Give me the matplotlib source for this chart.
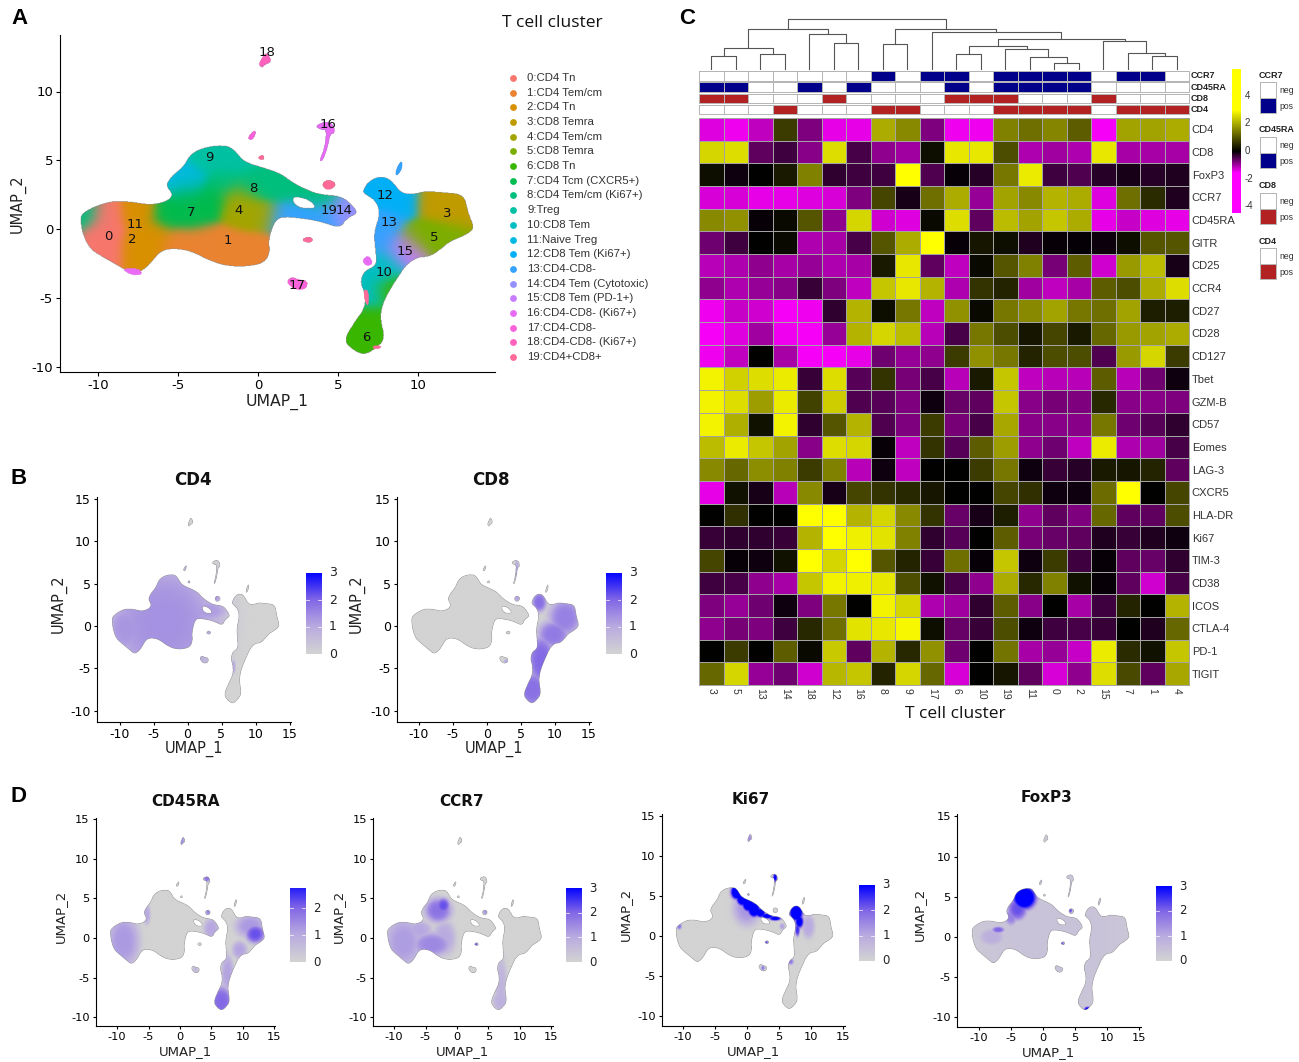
import numpy as np
import matplotlib
matplotlib.use('Agg')
import matplotlib.pyplot as plt
from matplotlib.colors import LinearSegmentedColormap, ListedColormap, TwoSlopeNorm, to_rgb
from matplotlib.path import Path

W, H = 1299, 1062

# cluster legend
cluster_names = ['0:CD4 Tn', '1:CD4 Tem/cm', '2:CD4 Tn', '3:CD8 Temra', '4:CD4 Tem/cm', '5:CD8 Temra',
                 '6:CD8 Tn', '7:CD4 Tcm (CXCR5+)', '8:CD4 Tem/cm (Ki67+)', '9:Treg', '10:CD8 Tem',
                 '11:Naive Treg', '12:CD8 Tem (Ki67+)', '13:CD4-CD8-', '14:CD4 Tem (Cytotoxic)',
                 '15:CD8 Tem (PD-1+)', '16:CD4-CD8- (Ki67+)', '17:CD4-CD8-', '18:CD4-CD8- (Ki67+)',
                 '19:CD4+CD8+']
cluster_colors = ['#F8766D', '#EA8331', '#D89000', '#C09B00', '#A3A500', '#7CAE00', '#39B600', '#00BB4E',
                  '#00BF7D', '#00C1A3', '#00BFC4', '#00BAE0', '#00B0F6', '#35A2FF', '#9590FF', '#C77CFF',
                  '#E76BF3', '#FA62DB', '#FF62BC', '#FF6A98']

# number labels on the UMAP
label_x = [-9.33, -1.9, -7.85, 11.85, -1.2, 11, 6.8, -4.15, -0.3, -3.06, 7.9, -7.7, 7.95, 8.17, 5.35, 9.17, 4.4, 2.44, 0.58, 4.42]
label_y = [-0.53, -0.82, -0.78, 1.16, 1.36, -0.65, -7.88, 1.2, 2.96, 5.2, -3.2, 0.36, 2.42, 0.5, 1.36, -1.62, 7.6, -4.12, 12.8, 1.36]

# outlines of the cell clouds
left_body = [(-11.1, 0.9), (-10.8, 1.3), (-9.85, 1.8), (-8.9, 2.05), (-7.8, 1.95), (-6.7, 1.75), (-5.7, 2.0), (-5.3, 2.5),
             (-5.8, 3.2), (-5.3, 3.95), (-4.65, 4.55), (-4.2, 5.5), (-3.2, 6.0), (-1.95, 6.1), (-1.4, 5.65), (-0.9, 4.9),
             (0.35, 4.45), (1.4, 4.05), (2.2, 3.35), (3.05, 2.85), (3.9, 2.5), (5.15, 2.4), (5.75, 1.9), (6.3, 1.15),
             (5.55, 0.8), (5.15, 0.05), (3.9, 0.55), (2.65, 0.8), (1.4, 0.9), (1.0, 0.45), (0.65, -0.8), (0.75, -1.75),
             (0.35, -2.5), (-0.9, -2.75), (-2.15, -2.65), (-3.2, -2.2), (-4.2, -1.6), (-5.3, -1.4), (-6.1, -1.6),
             (-6.7, -2.45), (-7.15, -2.95), (-7.8, -3.3), (-8.5, -2.85), (-9.45, -2.2), (-10.5, -1.5), (-11, -0.3), (-11.1, 0.7)]
body_hole = [(2.2, 2.4), (3.2, 2.15), (3.7, 1.5), (2.7, 1.5), (2.2, 1.9)]
right_body = [(6.6, 2.85), (6.9, 3.45), (7.65, 3.85), (8.3, 3.6), (9.0, 2.55), (9.85, 2.55), (10.45, 2.75), (11.7, 2.65),
              (12.9, 2.5), (13.15, 1.15), (13.55, 0.05), (13.05, -0.4), (12, -0.9), (11.4, -1.5), (10.75, -2), (9.95, -2.05),
              (9.2, -2.7), (8.8, -3.45), (8.25, -4.4), (7.75, -5.6), (7.65, -6.6), (7.95, -7.95), (7.45, -8.65), (6.6, -9.2),
              (5.75, -8.65), (5.4, -8.05), (6, -6.85), (6.7, -5.75), (6.7, -4.65), (6.4, -3.95), (6.6, -3.1), (7.45, -2.65),
              (7.35, -1.5), (7.25, -0.3), (7.65, 1.15), (7.35, 2.1), (6.6, 2.6)]

island_18 = [(0.05, 12.0), (0.35, 12.6), (0.55, 12.8), (0.85, 12.2), (0.4, 11.95), (0.25, 11.75)]
island_16 = [(3.6, 7.5), (4.2, 7.8), (4.7, 7.6), (4.8, 7.0), (4.5, 6.9), (4.35, 6.0), (4.05, 5.0), (3.85, 4.95), (4.2, 6.0), (4.3, 7.25), (3.9, 7.25)]
island_a = [(-0.65, 6.65), (-0.2, 7.2), (-0.15, 6.9), (-0.4, 6.45)]
island_b = [(0.0, 5.2), (0.3, 5.4), (0.4, 5.1), (0.15, 5.05)]
island_c = [(4.0, 3.3), (4.4, 3.6), (4.9, 3.3), (4.6, 2.9), (4.2, 2.9)]
island_d = [(2.7, -0.8), (3.2, -0.55), (3.45, -0.8), (3.2, -1.0)]
island_17 = [(1.8, -3.85), (2.1, -3.5), (2.5, -3.7), (3.1, -3.8), (3.0, -4.35), (2.4, -4.4), (2.1, -4.2)]
island_e = [(8.6, 4.0), (8.75, 4.6), (9.0, 4.95), (9.0, 4.4), (8.7, 3.9)]
islands = [island_18, island_16, island_a, island_b, island_c, island_d, island_17, island_e]
island_clusters = [18, 16, 17, 19, 19, 19, 17, 13]

# small patches sitting on the clouds in panel A
patch_a = [(-8.5, -2.9), (-7.5, -2.85), (-7.2, -3.3), (-7.9, -3.35)]
patch_b = [(6.5, -2.3), (6.9, -1.9), (7.2, -2.5), (6.8, -2.7)]
patch_c = [(6.6, -4.4), (6.9, -4.5), (6.9, -5.6), (6.7, -5.3)]
patch_d = [(7.2, -8.5), (7.7, -8.5), (7.6, -8.7), (7.2, -8.7)]
patches = [patch_a, patch_b, patch_c, patch_d]
patch_clusters = [16, 16, 19, 19]

# where each cluster dominates
seed_x = [-9.8, -9.5, -9.5, -7.5, -7.5, -6.5, -5.2, -4.4, -5, -2, 0, -3.5, -1, -4, -3, -5.5, -4.5, -1, 0.3, -1.2,
          -0.5, 1, -2, 2.5, 4, -3, -1.5, 2.5, 4, 1.5, 5.2, 7.5, 8.5, 9, 8, 8, 9, 8.2, 7.5, 7, 9.3, 11, 9.8, 12.5,
          12, 11, 13, 6.5, 7, 8.3, -10.9]
seed_y = [-0.3, 1, -1.5, -1.5, 1.2, -0.5, 3.6, 3.4, -1, -1.2, -1.5, -0.8, -2, 1, 2.2, 1, 2.5, 1.3, 1, 2.3,
          3.2, 3, 3.4, 2.8, 2.4, 5.2, 4.8, 1.1, 1, 0.8, 1.4, 2.8, 2.8, 2, 0.3, -1, -1.5, -2.3, -3.3, -4.8, -1.6, -0.5, -0.8, -0.4,
          1.5, 2, 0.9, -8, -6.5, -4.5, 1.1]
seed_cluster = [0, 0, 0, 2, 2, 2, 11, 11, 1, 1, 1, 1, 1, 7, 7, 7, 7, 4, 4, 4,
                8, 8, 8, 8, 8, 9, 9, 13, 13, 13, 14, 12, 12, 12, 13, 13, 15, 10, 10, 10, 15, 5, 5, 5,
                3, 3, 3, 6, 6, 6, 8]

# expression hot spots per feature plot: x, y, spread x, spread y, level
cd4_spots = [(-3.5, 0.5, 9, 7.5, 1.35), (-9, -0.3, 3, 3, 1.3), (3, 1.8, 3, 1.3, 1.2), (5, 1.2, 0.8, 1, 0.6),
             (4.3, 3.3, 0.4, 0.4, 1.2), (2.7, -4, 0.5, 0.5, 0.5), (3, -0.8, 0.4, 0.3, 1.0), (6.8, -4.8, 0.3, 0.8, 1.0)]
cd8_spots = [(7.7, 2.8, 1.1, 1.2, 1.85), (11.5, 1, 2.5, 2.3, 1.6), (8, -4, 2, 3, 1.95), (6.7, -7.5, 2.2, 2.2, 1.85),
             (9.8, -1, 2.4, 1.7, 1.7), (4.4, 6.5, 0.3, 1.4, 1.1), (4.4, 3.3, 0.4, 0.4, 1.1), (2.8, -4.2, 0.3, 0.3, 1.0)]
cd45ra_spots = [(-9, -0.4, 2.6, 3.4, 1.25), (-5.3, 3, 0.6, 1.3, 1.0), (12, 0.5, 1.6, 1.2, 2.2), (11.2, 1.5, 2.4, 1.5, 1.25),
                (9.5, -1.5, 1.2, 1.1, 1.1), (6.6, -8, 1.8, 2, 1.95), (7.6, -4.5, 1, 2.4, 1.1), (4.3, 7.5, 0.5, 0.4, 1.8),
                (5, 1.2, 1.2, 1.3, 1.05), (4.5, 3.3, 0.4, 0.4, 1.5), (0.3, 12.3, 0.4, 0.7, 1.4), (2.5, -4, 0.5, 0.5, 0.6)]
ccr7_spots = [(-8.5, -0.5, 3, 3.2, 1.2), (-4, -0.8, 3.2, 1.6, 1.5), (-3, 3.5, 2.2, 1.6, 1.8), (-2.2, 4.1, 1.1, 1, 2.2),
              (-6, 1, 2, 1.2, 1.05), (-2, 0, 1.8, 2.2, 1.0), (7, -6, 1, 3.6, 0.75), (7, -8, 1.3, 1.3, 0.85),
              (3, -0.8, 0.3, 0.2, 2.2), (4.5, 3.3, 0.3, 0.3, 1.4)]
ki67_spots = [(0, 3.5, 2.2, 2.2, 1.3), (-1.6, 5.5, 1, 1, 3.8), (-0.7, 4.7, 1, 1, 3.8), (0.2, 4, 1, 1, 3.8), (1.1, 3.3, 1, 1, 3.8),
              (2.1, 2.9, 0.8, 0.6, 3.6), (3.2, 2.5, 1, 0.35, 3.4), (4.4, 2.2, 1, 0.3, 3.2),
              (7.7, 2.9, 1.1, 1.1, 3.8), (8.2, 1.8, 0.7, 0.9, 3.2), (7.9, 0.8, 0.4, 0.9, 2.5), (9.6, 1.2, 1, 1.5, 1.0),
              (-10.6, 1.2, 0.4, 0.4, 1.7), (4.4, 7.3, 0.35, 0.6, 3.0), (3, -0.8, 0.3, 0.3, 2.2), (2.5, -4, 0.3, 0.3, 1.7),
              (6.8, -3.2, 0.5, 0.4, 1.7), (0.4, 12.2, 0.3, 0.6, 1.4), (5.5, 1.2, 0.4, 0.4, 1.1)]
foxp3_spots = [(-2.9, 4.9, 2, 1.6, 3.6), (-4, 3.5, 1.6, 1.5, 2.2), (-5, 2.5, 1, 1.1, 1.6), (-7, 0.9, 1, 0.4, 2.0), (-8, 0, 2, 1.1, 0.9),
               (2, 0, 16, 14, 0.4), (7, -9, 0.6, 0.35, 3.0), (4.3, 3.3, 0.3, 0.3, 2.2), (3, -0.8, 0.3, 0.3, 2.0)]

# feature plot layout in image pixels
feature_names = ['CD4', 'CD8', 'CD45RA', 'CCR7', 'Ki67', 'FoxP3']
feature_spots = [cd4_spots, cd8_spots, cd45ra_spots, ccr7_spots, ki67_spots, foxp3_spots]
feature_max = [3, 3, 2.75, 3, 3, 3]
feature_left = [97, 397, 96, 373, 662, 957]
feature_right = [291, 591, 275, 553, 845, 1141]
feature_top = [497, 497, 818, 818, 814, 814]
feature_bottom = [722, 722, 1026, 1026, 1026, 1027]
feature_x0 = [187.5, 487, 180, 457, 747, 1043]
feature_y0 = [626, 626, 938, 938, 936, 937]
feature_sx = [6.8, 6.8, 6.28, 6.28, 6.4, 6.4]
feature_sy = [8.48, 8.48, 7.92, 7.92, 8.0, 8.04]
bar_left = [306, 606, 290, 566, 859, 1156]
bar_top = [573, 573, 888, 888, 885, 886]
bar_bottom = [654, 654, 962, 962, 961, 961]
title_x = [193, 491, 186, 462, 751, 1047]
title_y = [480, 480, 802, 802, 799, 797]
xlabel_y = [749, 749, 1052, 1052, 1052, 1053]
ylabel_x = [59, 357, 60, 338, 625, 919]

# heatmap
heat_cols = ['3', '5', '13', '14', '18', '12', '16', '8', '9', '17', '6', '10', '19', '11', '0', '2', '15', '7', '1', '4']
heat_rows = ['CD4', 'CD8', 'FoxP3', 'CCR7', 'CD45RA', 'GITR', 'CD25', 'CCR4', 'CD27', 'CD28', 'CD127', 'Tbet', 'GZM-B',
             'CD57', 'Eomes', 'LAG-3', 'CXCR5', 'HLA-DR', 'Ki67', 'TIM-3', 'CD38', 'ICOS', 'CTLA-4', 'PD-1', 'TIGIT']
r_cd4 = [-1.4, -1.5, -1.2, 0.7, -0.8, -1.45, -1.45, 2.0, 1.6, -0.8, -1.5, -1.5, 1.5, 1.3, 1.55, 1.1, -1.55, 1.9, 1.9, 2.0]
r_cd8 = [2.5, 2.6, -0.6, -0.4, -0.85, 2.6, -0.45, -0.9, -1.0, 0.15, 2.7, 2.7, 0.9, -1.1, -1.0, -1.1, 2.7, -1.05, -1.05, -1.05]
r_foxp3 = [0.15, -0.1, 0, 0.3, 1.5, -0.3, -0.4, -0.4, 3.0, -0.5, -0.05, -0.25, 1.4, 2.75, -0.4, -0.5, -0.25, -0.15, -0.25, -0.2]
r_ccr7 = [-1.35, -1.35, -1.45, -1.45, -1.4, -1.35, -0.8, 0.8, -0.15, 1.3, 2.0, -0.95, 1.9, 1.6, 2.1, 2.0, -1.4, 1.3, 0.5, -0.2]
r_cd45ra = [1.6, 1.7, -0.05, 0.1, 1.0, -0.9, 2.5, -1.3, -1.4, 0.1, 2.6, -0.6, 2.2, 1.9, 2.3, 2.0, -1.45, -1.25, -1.4, -1.45]
r_gitr = [-0.7, -0.4, 0, 0.1, -1.1, -1.05, -0.45, 1.0, 2.0, 3.0, -0.05, 0.25, 0.15, -0.2, -0.05, -0.03, -0.08, 0.15, 1.0, 1.0]
r_cd25 = [-1.15, -1.1, -0.9, -1.05, -0.95, -1.1, -1.05, 0.3, 2.7, -0.6, -1.2, 0.1, 1.0, 1.5, -0.75, 1.1, -1.3, 1.8, 2.2, -0.15]
r_ccr4 = [-0.9, -1.1, -0.95, -0.85, -0.35, -0.8, -1.2, 2.3, 2.7, 2.1, -1.1, 0.6, 0.4, -1.0, -1.2, -1.05, 1.1, 0.9, 2.0, 2.6]
r_cd27 = [-1.5, -1.25, -1.3, -1.55, -1.5, -0.3, 2.1, 0.15, 1.4, -1.2, 1.7, 0.1, 1.4, 1.6, 1.9, 1.4, 1.3, 1.9, 0.35, 0.35]
r_cd28 = [-1.55, -1.4, -1.0, -1.5, -1.55, -0.95, 2.1, 2.5, 2.2, -1.15, -0.45, 1.4, 0.9, 0.25, 0.8, 0.3, 1.2, 1.8, 1.9, 2.0]
r_cd127 = [-1.5, -1.2, 0, -1.05, -1.55, -1.55, -1.45, -0.7, -0.95, -0.9, 0.7, 1.7, 1.4, 0.4, 0.9, 0.9, -0.5, 1.8, 2.5, 0.7]
r_tbet = [2.85, 2.45, 2.6, 2.75, -0.35, 2.6, -0.55, 0.6, -0.75, -0.45, -1.15, 0.3, 2.3, -1.2, -1.15, -1.15, 1.1, -1.15, -0.7, -0.1]
r_gzmb = [2.85, 2.6, 1.85, 2.75, 0.75, 2.4, -0.5, -0.55, -0.8, -0.1, -0.65, -0.6, 2.3, -0.85, -0.75, -0.8, 0.45, -0.85, -0.85, -0.8]
r_cd57 = [2.85, 2.05, 0.2, 2.85, -0.3, 1.0, 2.1, -0.5, -0.8, 0.7, -0.75, -0.45, 1.95, -0.85, -0.85, -0.85, 1.4, -0.7, -0.55, -0.3]
r_eomes = [2.2, 2.75, 2.3, 1.9, -0.85, 2.6, 2.5, -0.05, -1.2, 0.6, -0.55, 1.1, 1.85, -0.9, -0.7, -1.2, 2.75, -1.1, -1.0, -0.45]
r_lag3 = [1.6, 1.2, 1.65, 1.5, 0.7, 1.5, -1.15, -0.1, -1.2, 0, 0, 0.7, 1.4, -0.1, -0.35, -0.25, 0.3, 0.25, 0.4, -0.6]
r_cxcr5 = [-1.45, 0.2, -0.15, -1.15, 1.6, -0.15, 0.8, 0.6, 0.45, 0.25, 0, 0, 0.8, 0.55, -0.1, -0.1, 1.25, 3.0, 0, 0.8]
r_hladr = [0, 0.55, 0, 0, 3.0, 3.0, 2.1, 2.5, 1.6, 0.6, -0.65, -0.15, 0.35, -0.9, -0.6, -0.8, 1.2, -0.6, -0.6, 0.9]
r_ki67 = [-0.35, -0.3, -0.3, -0.35, 2.1, 3.0, 2.8, 2.65, 1.5, -0.3, -0.55, 0, 1.1, -0.75, -0.65, -0.6, -0.2, -0.35, -0.2, -0.1]
r_tim3 = [0.8, -0.05, -0.1, 0.2, 3.0, 2.5, 3.0, 1.0, 0.4, -0.35, 1.3, -0.05, 2.3, -0.1, 0.7, -0.4, -0.05, -0.6, -0.65, -0.3]
r_cd38 = [-0.4, -0.45, -0.9, -1.05, 2.3, 2.85, 2.8, 2.7, 0.9, 0.2, -0.45, -0.9, 2.0, 0.45, 1.5, 0.2, -0.05, -0.6, -1.3, -0.45]
r_icos = [-0.8, -0.95, -0.7, -0.1, -0.8, 1.4, 0, 2.85, 2.5, -1.1, -1.0, -0.3, 1.1, -0.85, 0, -1.05, -0.4, 0.4, 0, 2.1]
r_ctla4 = [-0.9, -0.75, -0.8, -0.4, 0.45, 1.3, 2.65, 2.7, 2.9, 0.15, -0.65, -0.35, 0.9, -0.1, -0.4, -0.45, -0.35, 0, -0.2, 1.2]
r_pd1 = [0, 0.7, 0, 1.1, 0.1, 2.35, -0.6, 2.1, 0.45, 1.7, -0.7, 0, 1.35, -1.05, -0.95, -1.25, 2.75, 0.5, 0.2, 2.3]
r_tigit = [1.2, 2.5, -0.95, -0.7, -1.3, 2.15, 2.3, 0.4, 2.5, 1.2, -1.35, 0, 0.25, -0.6, -1.35, -0.9, 2.6, 0.85, -0.6, 1.95]
heat_values = np.array([r_cd4, r_cd8, r_foxp3, r_ccr7, r_cd45ra, r_gitr, r_cd25, r_ccr4, r_cd27, r_cd28, r_cd127, r_tbet, r_gzmb,
                        r_cd57, r_eomes, r_lag3, r_cxcr5, r_hladr, r_ki67, r_tim3, r_cd38, r_icos, r_ctla4, r_pd1, r_tigit])

# annotation strips over the heatmap
annot_names = ['CCR7', 'CD45RA', 'CD8', 'CD4']
annot_ccr7 = [0, 0, 0, 0, 0, 0, 0, 1, 0, 1, 1, 0, 1, 1, 1, 1, 0, 1, 1, 0]
annot_cd45ra = [1, 1, 0, 0, 1, 0, 1, 0, 0, 0, 1, 0, 1, 1, 1, 1, 0, 0, 0, 0]
annot_cd8 = [1, 1, 0, 0, 0, 1, 0, 0, 0, 0, 1, 1, 1, 0, 0, 0, 1, 0, 0, 0]
annot_cd4 = [0, 0, 0, 1, 0, 0, 0, 1, 1, 0, 0, 0, 1, 1, 1, 1, 0, 1, 1, 1]
annot_values = [annot_ccr7, annot_cd45ra, annot_cd8, annot_cd4]
annot_colors = ['#00008B', '#00008B', '#B22222', '#B22222']
annot_top = [71, 82, 94, 105]
annot_bottom = [81, 92, 103, 114]
key_title_y = [75, 130, 185, 241]
key_top = [82, 137, 193, 248]

# dendrogram merges, ids from 20 are earlier merges
dend_left = [0, 2, 20, 5, 4, 22, 7, 10, 14, 13, 12, 27, 18, 17, 16, 31, 9, 26, 25]
dend_right = [1, 3, 21, 6, 23, 24, 8, 11, 15, 28, 29, 30, 19, 32, 33, 34, 35, 36, 37]
dend_height = [14, 16, 21.7, 26.7, 35.7, 41, 26, 16, 6.7, 12.7, 20.7, 24.3, 14, 16.7, 28.7, 31.3, 37.7, 41.3, 50.7]

plt.rcParams['font.family'] = ['DejaVu Sans']
plt.rcParams['axes.unicode_minus'] = False
fig = plt.figure(figsize=(W / 100, H / 100), dpi=100)


def px_axes(left, top, right, bottom):
    return fig.add_axes([left / W, 1 - bottom / H, (right - left) / W, (bottom - top) / H])


def rounded(shape, passes=2):
    # corner cutting so the hand read outlines lose their straight edges
    p = np.array(shape, dtype=float)
    for _ in range(passes):
        q = np.roll(p, -1, axis=0)
        p = np.column_stack([0.75 * p + 0.25 * q, 0.25 * p + 0.75 * q]).reshape(-1, 2)
    return p


# overlay in image pixels for all free standing text
ov = fig.add_axes([0, 0, 1, 1], zorder=10)
ov.set_xlim(0, W)
ov.set_ylim(H, 0)
ov.axis('off')

# raster grid shared by all UMAP panels
step = 0.04
grid_x = np.arange(-13.5, 15.5, step)
grid_y = np.arange(-11.5, 15.5, step)
gx, gy = np.meshgrid(grid_x, grid_y)
pts = np.column_stack([gx.ravel(), gy.ravel()])
mask = Path(rounded(left_body)).contains_points(pts) | Path(rounded(right_body)).contains_points(pts)
mask &= ~Path(rounded(body_hole)).contains_points(pts)
main_mask = mask.reshape(gx.shape)
for shape in islands:
    mask |= Path(rounded(shape, 1)).contains_points(pts)
mask = mask.reshape(gx.shape)
extent = [grid_x[0], grid_x[-1], grid_y[0], grid_y[-1]]

seed_rgb = np.array([to_rgb(cluster_colors[c]) for c in seed_cluster])
xm, ym = gx[main_mask], gy[main_mask]
d2 = np.stack([(xm - sx) ** 2 + (ym - sy) ** 2 for sx, sy in zip(seed_x, seed_y)], axis=1)
wts = np.exp(-(d2 - d2.min(axis=1, keepdims=True)) / 0.8)
wts /= wts.sum(axis=1, keepdims=True)
cluster_img = np.zeros(gx.shape + (4,))
cluster_img[main_mask, :3] = wts @ seed_rgb
cluster_img[main_mask, 3] = 1

# panel A
x0, y0, sx, sy = 258, 229, 16, 13.75
ax = px_axes(60, 35, 495, 372)
ax.imshow(cluster_img, origin='lower', extent=extent, aspect='auto', interpolation='bilinear', zorder=1)
ax.set_xlim((60 - x0) / sx, (495 - x0) / sx)
ax.set_ylim((y0 - 372) / sy, (y0 - 35) / sy)
for shape, c in zip(islands, island_clusters):
    ax.fill(*zip(*rounded(shape, 1)), color=cluster_colors[c], lw=0.4, zorder=2)
for shape, c in zip(patches, patch_clusters):
    ax.fill(*zip(*rounded(shape, 1)), color=cluster_colors[c], lw=0.4, zorder=2)
for i in range(20):
    ax.text(label_x[i], label_y[i], str(i), fontsize=9.5, ha='center', va='center', color='#111111', zorder=3)
ax.set_xticks([-10, -5, 0, 5, 10])
ax.set_yticks([-10, -5, 0, 5, 10])
ax.tick_params(labelsize=9.5, length=3, width=0.8, pad=2)
ax.spines[['top', 'right']].set_visible(False)
ov.text(277, 402, 'UMAP_1', fontsize=11.3, ha='center', va='center', color='#222222')
ov.text(18, 204, 'UMAP_2', fontsize=10.5, ha='center', va='center', rotation=90, color='#222222')

# cluster legend
for i, name in enumerate(cluster_names):
    yy = 78 + i * (357 - 78) / 19
    ov.scatter([513], [yy], s=24, color=cluster_colors[i], lw=0)
    ov.text(527.5, yy, name, fontsize=8.2, family='Liberation Sans', ha='left', va='center', color='#333333')
ov.text(552, 23, 'T cell cluster', fontsize=12.5, family='Open Sans', ha='center', va='center', color='#111111')

# feature plots
feature_cmap = LinearSegmentedColormap.from_list('feature', ['#D3D3D3', '#B9ABE0', '#8166E6', '#0000FF'])
for i, name in enumerate(feature_names):
    left, right, top, bottom = feature_left[i], feature_right[i], feature_top[i], feature_bottom[i]
    x0, y0, sx, sy = feature_x0[i], feature_y0[i], feature_sx[i], feature_sy[i]
    level = np.zeros(gx.shape)
    for hx, hy, rx, ry, lv in feature_spots[i]:
        r2 = ((gx - hx) / rx) ** 2 + ((gy - hy) / ry) ** 2
        level = np.maximum(level, lv * np.exp(-r2 ** 2))
    level = np.where(mask, level, np.nan)
    ax = px_axes(left, top, right, bottom)
    ax.imshow(level, origin='lower', extent=extent, aspect='auto', cmap=feature_cmap, vmin=0, vmax=3)
    ax.set_xlim((left - x0) / sx, (right - x0) / sx)
    ax.set_ylim((y0 - bottom) / sy, (y0 - top) / sy)
    ax.set_xticks([-10, -5, 0, 5, 10, 15])
    ax.set_yticks([-10, -5, 0, 5, 10, 15])
    small = i >= 2
    ax.tick_params(labelsize=8.2 if small else 9, length=2.5, width=0.8, pad=2)
    ax.spines[['top', 'right']].set_visible(False)
    ov.text(title_x[i], title_y[i], name, fontsize=11 if small else 12, fontweight='bold', ha='center', va='center', color='#111111')
    ov.text((left + right) / 2, xlabel_y[i], 'UMAP_1', fontsize=9.5 if small else 10.5, ha='center', va='center', color='#222222')
    ov.text(ylabel_x[i], (top + bottom) / 2 - 6, 'UMAP_2', fontsize=9.5 if small else 10.5, rotation=90, ha='center', va='center', color='#222222')

    # colourbar
    bl, bt, bb = bar_left[i], bar_top[i], bar_bottom[i]
    vmax = feature_max[i]
    cax = px_axes(bl, bt, bl + 15.5, bb)
    cax.imshow(np.linspace(vmax, 0, 200)[:, None], aspect='auto', cmap=feature_cmap, vmin=0, vmax=3, extent=[0, 1, 0, vmax])
    cax.axis('off')
    for t in range(int(vmax) + 1):
        ty = bb - (bb - bt) * t / vmax
        ov.text(bl + 27, ty, str(t), fontsize=9 if not small else 8.5, ha='center', va='center', color='#222222')
        if 0 < t < vmax:
            cax.plot([0, 0.2], [t, t], color='white', lw=0.5)
            cax.plot([0.8, 1], [t, t], color='white', lw=0.5)
    cax.set_xlim(0, 1)
    cax.set_ylim(0, vmax)

# heatmap
heat_cmap = LinearSegmentedColormap.from_list('heat', ['#FF00FF', '#000000', '#FFFF00'])
heat_norm = TwoSlopeNorm(vmin=-1.6, vcenter=0, vmax=3)
n_rows, n_cols = heat_values.shape
ax = px_axes(699, 118, 1189, 685)
ax.pcolormesh(heat_values, cmap=heat_cmap, norm=heat_norm, edgecolors='#A3A3A3', linewidth=0.7)
ax.set_xlim(0, n_cols)
ax.set_ylim(n_rows, 0)
ax.set_xticks(np.arange(n_cols) + 0.5, heat_cols, rotation=-90, fontsize=7.5, family='Liberation Sans', color='#333333')
ax.set_yticks(np.arange(n_rows) + 0.5, heat_rows, fontsize=8, family='Liberation Sans', color='#333333')
ax.yaxis.tick_right()
ax.tick_params(length=0, pad=2)
for side in ax.spines.values():
    side.set_edgecolor('#A3A3A3')
    side.set_linewidth(0.7)
ov.text(955, 714, 'T cell cluster', fontsize=12.5, family='Open Sans', ha='center', va='center', color='#111111')

# annotation strips and their keys
for i, name in enumerate(annot_names):
    cax = px_axes(699, annot_top[i], 1189, annot_bottom[i])
    cax.pcolormesh(np.array([annot_values[i]]), cmap=ListedColormap(['white', annot_colors[i]]), vmin=0, vmax=1,
                   edgecolors='#B5B5B5', linewidth=0.7)
    cax.set_xticks([])
    cax.set_yticks([])
    for side in cax.spines.values():
        side.set_edgecolor('#B5B5B5')
        side.set_linewidth(0.7)
    ov.text(1191, (annot_top[i] + annot_bottom[i]) / 2, name, fontsize=6.5, fontweight='bold', family='Liberation Sans',
            ha='left', va='center', color='#222222')
    kt = key_top[i]
    kax = px_axes(1260, kt, 1276, kt + 31)
    kax.pcolormesh(np.array([[1], [0]]), cmap=ListedColormap(['white', annot_colors[i]]), vmin=0, vmax=1,
                   edgecolors='#B5B5B5', linewidth=0.7)
    kax.set_xticks([])
    kax.set_yticks([])
    for side in kax.spines.values():
        side.set_edgecolor('#B5B5B5')
        side.set_linewidth(0.7)
    ov.text(1259, key_title_y[i], name, fontsize=6.5, fontweight='bold', family='Liberation Sans', ha='left', va='center', color='#222222')
    ov.text(1279, kt + 8.5, 'neg', fontsize=6.2, family='Liberation Sans', ha='left', va='center', color='#333333')
    ov.text(1279, kt + 24.5, 'pos', fontsize=6.2, family='Liberation Sans', ha='left', va='center', color='#333333')

# heat colourbar
cax = px_axes(1232, 69, 1241, 213)
cax.imshow(np.linspace(5.96, -4.5, 300)[:, None], aspect='auto', cmap=heat_cmap, norm=heat_norm)
cax.axis('off')
for t in [4, 2, 0, -2, -4]:
    ov.text(1245, 151 - t * 13.8, str(t), fontsize=7, family='Liberation Sans', ha='left', va='center', color='#333333')

# dendrogram
dax = px_axes(699, 15, 1189, 70)
dax.set_xlim(0, n_cols)
dax.set_ylim(0, 55)
dax.axis('off')
node_x = {i: i + 0.5 for i in range(n_cols)}
node_h = {i: 0 for i in range(n_cols)}
for n, (a, b, h) in enumerate(zip(dend_left, dend_right, dend_height)):
    dax.plot([node_x[a], node_x[a], node_x[b], node_x[b]], [node_h[a], h, h, node_h[b]], color='#555555', lw=0.8)
    node_x[n_cols + n] = (node_x[a] + node_x[b]) / 2
    node_h[n_cols + n] = h

# panel letters
for letter, lx, ly in zip('ABCD', [20, 19, 687, 19], [19, 479, 19, 797]):
    ov.text(lx, ly, letter, fontsize=16, fontweight='bold', family='Liberation Sans', ha='center', va='center', color='black')

fig.savefig('out.png', dpi=100)
